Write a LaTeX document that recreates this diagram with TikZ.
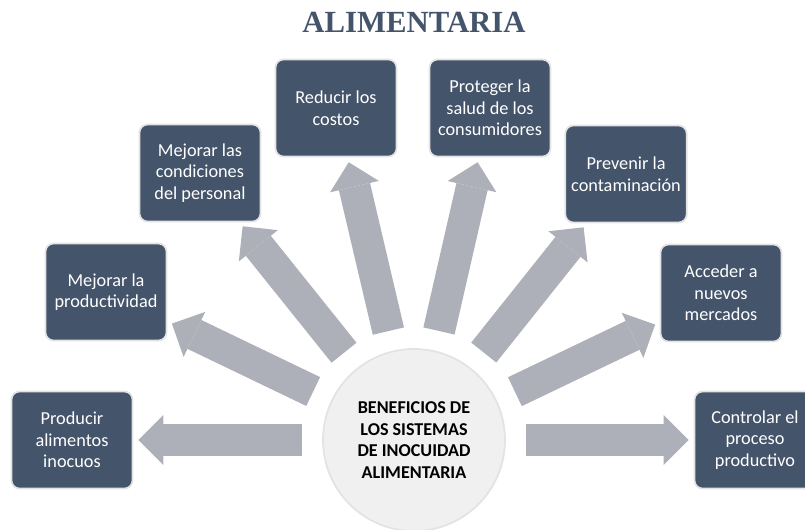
\documentclass[tikz,border=0pt]{standalone}
\usepackage{fontspec}
\setmainfont{Carlito}
\newfontfamily\titulofont{Liberation Serif}
\usetikzlibrary{arrows.meta}
\definecolor{azulgris}{HTML}{44546A}
\definecolor{grisflecha}{HTML}{ADB0B8}
\definecolor{grisborde}{HTML}{E3E3E3}
\definecolor{griscirculo}{HTML}{F0F0F0}
\begin{document}
\begin{tikzpicture}
		[	box/.style={rectangle,rounded corners=0.16cm,draw=grisborde,line width=1pt,fill=azulgris,text=white,minimum width=2.42cm,minimum height=1.94cm,align=center,font=\fontsize{10.4}{12.3}\selectfont},
		hub/.style={circle,draw=grisborde,line width=1pt,fill=griscirculo,minimum size=3.64cm,align=center,font=\fontsize{10.3}{12.3}\selectfont\bfseries},
		flecha/.style={draw=grisflecha,line width=0.64cm,-{Triangle[length=0.5cm,width=1cm,line width=0pt]},shorten <=0.4cm,shorten >=0.1cm},
		plain/.style={draw=none,fill=none},
		]
		\useasboundingbox (0,0) rectangle (16.1,10.58);
		\node[plain,anchor=base,text=azulgris,font=\titulofont\bfseries\fontsize{17.5}{20}\selectfont] at (8.28,9.94) {ALIMENTARIA};

		\node[hub,name=centro] at (8.28,1.78) {BENEFICIOS DE\\LOS SISTEMAS\\DE INOCUIDAD\\ALIMENTARIA};

		\node[box,name=inocuos] at (1.44,1.78) {Producir\\alimentos\\inocuos};
		\node[box,name=productividad] at (2.12,4.74) {Mejorar la\\productividad};
		\node[box,name=personal] at (4.00,7.12) {Mejorar las\\condiciones\\del personal};
		\node[box,name=costos] at (6.72,8.42) {Reducir los\\costos};
		\node[box,name=salud] at (9.80,8.42) {Proteger la\\salud de los\\consumidores};
		\node[box,name=contaminacion] at (12.52,7.10) {Prevenir la\\contaminación};
		\node[box,name=mercados] at (14.42,4.72) {Acceder a\\nuevos\\mercados};
		\node[box,name=proceso] at (15.10,1.78) {Controlar el\\proceso\\productivo};

		\draw[flecha] (centro) -- (inocuos);
		\draw[flecha] (centro) -- (productividad);
		\draw[flecha] (centro) -- (personal);
		\draw[flecha] (centro) -- (costos);
		\draw[flecha] (centro) -- (salud);
		\draw[flecha] (centro) -- (contaminacion);
		\draw[flecha] (centro) -- (mercados);
		\draw[flecha] (centro) -- (proceso);
	\end{tikzpicture}
\end{document}
